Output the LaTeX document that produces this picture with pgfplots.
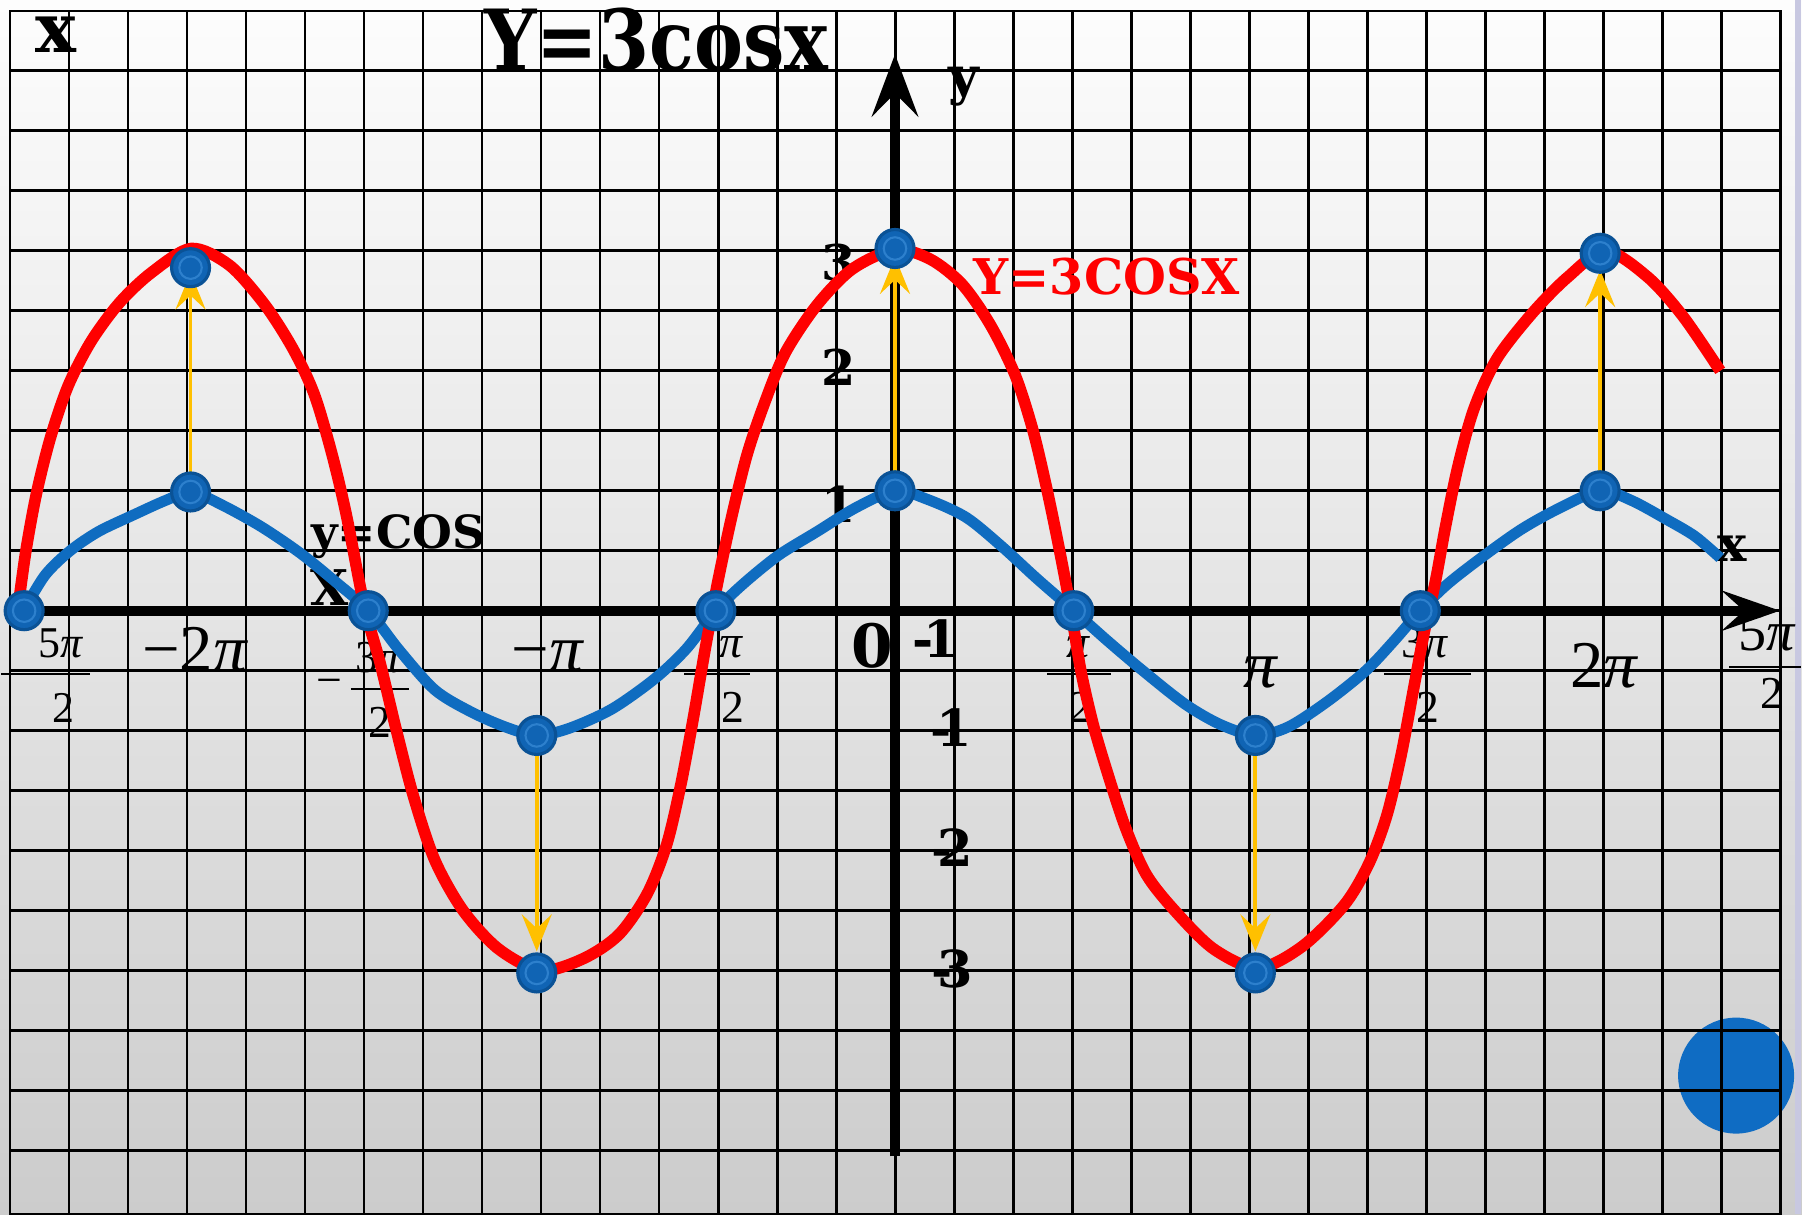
\documentclass[border=0pt]{standalone}
\usepackage{fontspec}
\setmainfont{Liberation Serif}
\newfontfamily\dvs{DejaVu Serif}
\usepackage{graphicx}
\usepackage{pgfplots}
\usepackage{pgfplotstable}
\pgfplotsset{compat=1.18}
\usetikzlibrary{arrows.meta}

\definecolor{cblue}{RGB}{15,108,192}
\definecolor{cdot}{RGB}{16,100,180}
\definecolor{cdotedge}{RGB}{10,82,150}
\definecolor{cdotring}{RGB}{45,128,205}
\definecolor{cbig}{RGB}{15,108,195}
\definecolor{cyel}{RGB}{255,192,0}
\definecolor{cred}{RGB}{255,0,0}
\definecolor{bgtop}{RGB}{253,253,253}
\definecolor{bgmid}{RGB}{242,242,242}
\definecolor{bgbot}{RGB}{204,204,204}
\definecolor{cedge}{RGB}{200,200,225}

\newcommand{\fs}[1]{\fontsize{#1}{#1}\selectfont}
\newcommand{\bl}[1]{\dvs\bfseries\fs{#1}}
\newcommand{\PI}{\textit{π}}

% x in multiples of pi, y in units
\pgfplotstableread{
x y
-2.460 0.00
-1.488 0.00
-0.506 0.00
0.505 0.00
1.484 0.00
-1.990 0.99
0.000 1.00
1.992 1.00
-1.012 -1.04
1.018 -1.04
-1.990 2.86
0.000 3.02
1.992 2.98
-1.012 -3.02
1.018 -3.02
}\dotdata

\begin{document}
\begin{tikzpicture}
\begin{axis}[
    at={(1mm,0mm)}, anchor=south west,
    scale only axis, width=177mm, height=120.3mm,
    xmin=-2.5, xmax=2.5, ymin=-5.03, ymax=5,
    xtick distance=0.1666667, ytick={-4.5,-4,...,5},
    xticklabels={}, yticklabels={},
    tick style={draw=none},
    grid=major,
    major grid style={black, line width=0.85pt},
    axis line style={black, line width=0.85pt},
    clip=false, set layers,
]

% page background, under everything
\pgfplotsextra{%
  \begin{pgfonlayer}{axis background}
    \shade[top color=bgtop, middle color=bgmid, bottom color=bgbot]
      (axis cs:-2.53,-5.03) rectangle (axis cs:2.565,5.095);
    \draw[cedge, line width=0.6mm] (axis cs:2.552,-5.03) -- (axis cs:2.552,5.095);
  \end{pgfonlayer}%
}

% big dot, under the grid
\addplot[cbig, only marks, mark=*, mark size=16.3pt,
    mark options={fill=cbig, draw=cbig}, on layer=axis background,
    mark layer=axis background]
    coordinates {(2.376,-3.876)};

% titles and labels
\node[anchor=base, inner sep=0pt] at (axis cs:-0.674,4.503) {\scalebox{0.87}[1]{\bl{24}Y=3cosx}};
\node[anchor=base, inner sep=0pt] at (axis cs:-2.371,4.65) {\bl{19.5}x};
\node[anchor=base, inner sep=0pt] at (axis cs:0.194,4.305) {\bl{15}y};
\node[anchor=base, inner sep=0pt] at (axis cs:2.366,0.409) {\bl{14}x};
\node[anchor=base, inner sep=0pt, text=cred] at (axis cs:0.598,2.635) {\bl{14}Y=3COSX};
\node[anchor=base, inner sep=0pt] at (axis cs:-1.403,0.521) {\bl{13}y=COS};
\node[anchor=base, inner sep=0pt] at (axis cs:-1.597,0.04) {\bl{14}X};

\node[anchor=base, inner sep=0pt] at (axis cs:-0.158,2.749) {\bl{14}3};
\node[anchor=base, inner sep=0pt] at (axis cs:-0.158,1.876) {\bl{14}2};
\node[anchor=base, inner sep=0pt] at (axis cs:-0.158,0.735) {\bl{14}1};
\node[anchor=base, inner sep=0pt] at (axis cs:-0.064,-0.476) {\bl{17}0};
\node[anchor=base, inner sep=0pt] at (axis cs:0.116,-0.393) {\bl{14.5}-\kern-0.2em1};
\node[anchor=base, inner sep=0pt] at (axis cs:0.158,-1.136) {\bl{14.5}-\kern-0.3em1};
\node[anchor=base, inner sep=0pt] at (axis cs:0.161,-2.13) {\bl{14.5}-\kern-0.3em2};
\node[anchor=base, inner sep=0pt] at (axis cs:0.161,-3.141) {\bl{14.5}-\kern-0.3em3};

% x tick labels
\node[anchor=base, inner sep=0pt] at (axis cs:-2.356,-0.393) {\fs{12.5}5\PI};
\draw[line width=0.6pt] (axis cs:-2.525,-0.526) -- (axis cs:-2.274,-0.526);
\node[anchor=base, inner sep=0pt] at (axis cs:-2.350,-0.931) {\fs{12.5}2};

\node[anchor=base, inner sep=0pt] at (axis cs:-1.977,-0.51) {\fs{19}−2\PI};

\node[anchor=base, inner sep=0pt] at (axis cs:-1.459,-0.518) {\fs{13}3\PI};
\node[inner sep=0pt] at (axis cs:-1.599,-0.643) {\fs{13}−};
\draw[line width=0.6pt] (axis cs:-1.537,-0.652) -- (axis cs:-1.373,-0.652);
\node[anchor=base, inner sep=0pt] at (axis cs:-1.455,-1.053) {\fs{13}2};

\node[anchor=base, inner sep=0pt] at (axis cs:-0.980,-0.51) {\fs{19}−\PI};

\node[anchor=base, inner sep=0pt] at (axis cs:-0.462,-0.393) {\fs{13}\PI};
\draw[line width=0.6pt] (axis cs:-0.596,-0.526) -- (axis cs:-0.410,-0.526);
\node[anchor=base, inner sep=0pt] at (axis cs:-0.458,-0.931) {\fs{13}2};

\node[anchor=base, inner sep=0pt] at (axis cs:0.517,-0.393) {\fs{13}\PI};
\draw[line width=0.6pt] (axis cs:0.43,-0.526) -- (axis cs:0.61,-0.526);
\node[anchor=base, inner sep=0pt] at (axis cs:0.525,-0.931) {\fs{13}2};

\node[anchor=base, inner sep=0pt] at (axis cs:1.034,-0.643) {\fs{19}\PI};

\node[anchor=base, inner sep=0pt] at (axis cs:1.496,-0.393) {\fs{13}3\PI};
\draw[line width=0.6pt] (axis cs:1.381,-0.526) -- (axis cs:1.627,-0.526);
\node[anchor=base, inner sep=0pt] at (axis cs:1.504,-0.931) {\fs{13}2};

\node[anchor=base, inner sep=0pt] at (axis cs:2.004,-0.643) {\fs{19}2\PI};

\node[anchor=base, inner sep=0pt] at (axis cs:2.463,-0.334) {\fs{16}5\PI};
\draw[line width=0.6pt] (axis cs:2.356,-0.468) -- (axis cs:2.56,-0.468);
\node[anchor=base, inner sep=0pt] at (axis cs:2.477,-0.819) {\fs{13}2};

% x axis
\draw[line width=2.8pt, -{Stealth[length=5.8mm,width=4mm,inset=2.2mm]}]
    (axis cs:-2.5,0) -- (axis cs:2.5,0);

% y = cos x
\addplot[cblue, line width=3.1pt, smooth] table {
x y
-2.458 0.02
-2.40 0.30
-2.33 0.50
-2.25 0.66
-2.15 0.80
-2.06 0.92
-1.988 0.99
-1.90 0.88
-1.79 0.70
-1.68 0.48
-1.58 0.24
-1.487 0.00
-1.40 -0.33
-1.30 -0.66
-1.20 -0.84
-1.10 -0.97
-1.012 -1.04
-0.92 -0.98
-0.80 -0.82
-0.68 -0.57
-0.59 -0.32
-0.506 0.00
-0.43 0.22
-0.33 0.46
-0.22 0.66
-0.11 0.86
0.00 1.00
0.09 0.93
0.20 0.78
0.30 0.54
0.40 0.27
0.505 0.00
0.60 -0.25
0.70 -0.50
0.82 -0.78
0.92 -0.95
1.018 -1.04
1.11 -0.97
1.22 -0.76
1.33 -0.50
1.41 -0.25
1.484 0.00
1.56 0.22
1.66 0.45
1.77 0.68
1.88 0.86
1.992 1.00
2.08 0.92
2.18 0.76
2.26 0.62
2.331 0.44
};

% points
\addplot[only marks, mark=*, mark size=5.4pt,
    mark options={fill=cdot, draw=cdotedge, line width=0.9pt}] table {\dotdata};
\addplot[only marks, mark=o, mark size=3.2pt,
    mark options={draw=cdotring, line width=0.6pt}] table {\dotdata};

% y axis
\draw[line width=2.8pt, -{Stealth[length=6.2mm,width=4.6mm,inset=2.3mm]}]
    (axis cs:0,-4.55) -- (axis cs:0,4.64);

% stretch arrows
\addplot[cyel, line width=1.1pt, no markers, quiver={u=0, v=\thisrow{v}},
    -{Stealth[length=3.7mm,width=3mm,inset=1.4mm]}] table {
x y v
-1.990 0.99 1.83
0.000 1.00 1.95
1.992 1.00 1.84
-1.012 -1.04 -1.80
1.018 -1.04 -1.80
};

% y = 3 cos x
\addplot[cred, line width=3.3pt, smooth] table {
x y
-2.477 0.03
-2.455 0.50
-2.425 0.98
-2.385 1.45
-2.335 1.88
-2.27 2.25
-2.19 2.57
-2.10 2.82
-1.988 3.02
-1.88 2.88
-1.78 2.55
-1.70 2.18
-1.64 1.80
-1.59 1.30
-1.55 0.80
-1.50 0.05
-1.455 -0.43
-1.41 -0.98
-1.36 -1.55
-1.30 -2.08
-1.22 -2.50
-1.12 -2.82
-1.00 -3.00
-0.88 -2.90
-0.78 -2.70
-0.70 -2.36
-0.645 -1.95
-0.605 -1.45
-0.57 -0.90
-0.535 -0.30
-0.50 0.25
-0.46 0.80
-0.418 1.30
-0.37 1.72
-0.31 2.15
-0.22 2.55
-0.12 2.85
0.00 3.01
0.10 2.93
0.19 2.72
0.27 2.38
0.34 1.96
0.39 1.50
0.43 1.00
0.465 0.50
0.497 0.00
0.525 -0.50
0.56 -0.95
0.60 -1.35
0.65 -1.80
0.71 -2.20
0.79 -2.50
0.90 -2.82
1.025 -2.98
1.15 -2.80
1.27 -2.45
1.34 -2.10
1.39 -1.70
1.43 -1.20
1.465 -0.65
1.495 -0.18
1.527 0.25
1.555 0.70
1.59 1.20
1.635 1.68
1.70 2.10
1.80 2.48
1.90 2.78
2.007 3.00
2.127 2.78
2.227 2.45
2.331 2.00
};

\end{axis}
\pgfresetboundingbox
\path[use as bounding box] (0,0) rectangle (180.2mm,121.4mm);
\end{tikzpicture}
\end{document}
